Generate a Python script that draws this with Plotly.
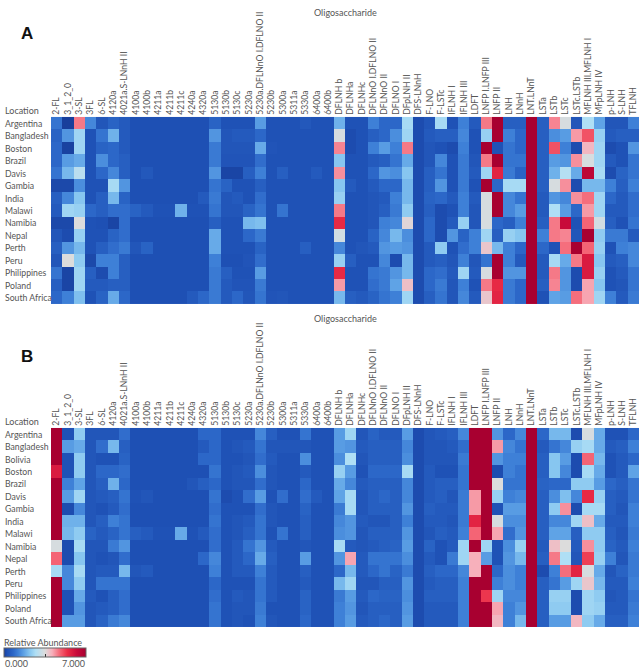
import plotly.graph_objects as go

W, H = 642, 668

oligos = ["2-FL", "3_1_2_0", "3-SL", "3FL", "6-SL", "4120a", "4021a.S-LNnH II", "4100a", "4100b",
          "4211a", "4211b", "4211c", "4240a", "4320a", "5130a", "5130b", "5130c", "5230a",
          "5230a.DFLNnO I.DFLNO II", "5230b", "5300a", "5311a", "5330a", "6400a", "6400b",
          "DFLNH b", "DFLNHa", "DFLNHc", "DFLNnO I.DFLNO II", "DFLNnO II", "DFLNO I", "DFpLNH II",
          "DFS-LNnH", "F-LNO", "F-LSTc", "IFLNH I", "IFLNH III", "LDFT", "LNFP I.LNFP III",
          "LNFP II", "LNH", "LNnH", "LNT.LNnT", "LSTa", "LSTb", "LSTc", "LSTc.LSTb",
          "MFLNH III.MFLNH I", "MFpLNH IV", "p-LNH", "S-LNH", "TFLNH"]

locations_a = ["Argentina", "Bangladesh", "Boston", "Brazil", "Davis", "Gambia", "India", "Malawi",
               "Namibia", "Nepal", "Perth", "Peru", "Philippines", "Poland", "South Africa"]
locations_b = ["Argentina", "Bangladesh", "Bolivia", "Boston", "Brazil", "Davis", "Gambia", "India",
               "Malawi", "Namibia", "Nepal", "Perth", "Peru", "Philippines", "Poland", "South Africa"]

abundance_a = [
    [1.0,0.0,4.6,1.3,0.4,0.7,0.5,0.25,0.25,0.25,0.25,0.25,0.25,0.25,0.7,0.3,0.3,0.3,1.6,0.3,0.3,0.3,0.45,0.3,0.3,1.9,
     0.3,0.3,1.2,0.8,0.8,2.6,0.2,0.4,2.6,0.3,1.2,0.5,4.6,7.0,0.6,0.6,7.0,0.6,4.5,3.4,0.4,2.7,1.7,0.4,0.4,1.2],
    [0.7,1.5,2.5,0.3,1.0,1.9,0.5,0.25,0.25,0.25,0.25,0.25,0.25,0.25,1.5,0.4,0.5,0.5,0.8,0.3,0.3,0.3,0.3,0.3,0.3,3.4,
     0.2,0.3,0.6,0.8,1.4,2.5,0.2,0.5,0.6,0.6,1.3,0.3,2.4,7.0,1.2,0.8,7.0,0.6,1.4,1.6,4.3,5.0,2.4,0.5,0.6,0.6],
    [0.8,0.05,2.5,0.3,0.7,0.8,0.5,0.25,0.25,0.25,0.25,0.25,0.25,0.25,1.1,0.4,0.4,0.4,1.8,0.35,0.3,0.3,0.3,0.3,0.3,4.5,
     0.2,0.3,1.2,1.6,1.2,4.6,0.2,0.4,0.3,0.2,1.2,0.3,7.0,0.3,1.0,0.8,7.0,0.6,5.0,1.2,0.2,4.0,2.5,0.2,0.3,1.5],
    [0.8,1.6,1.8,0.3,1.4,0.8,0.6,0.25,0.25,0.25,0.25,0.25,0.25,0.25,1.1,0.35,0.35,0.35,0.9,0.3,0.3,0.3,0.3,0.3,0.3,2.2,
     0.3,0.3,0.5,0.6,1.0,1.8,0.2,0.4,1.3,0.3,1.1,0.4,4.6,7.0,1.0,1.0,7.0,0.6,1.6,1.5,4.4,3.4,2.5,0.5,0.3,1.0],
    [1.0,2.0,2.9,0.3,0.8,1.3,0.6,0.25,0.45,0.25,0.25,0.25,0.25,0.25,1.5,0.1,0.1,0.6,1.2,0.3,0.6,0.3,0.3,0.5,0.3,4.4,
     0.3,0.3,0.8,1.5,1.4,2.2,0.2,0.6,1.0,0.3,1.1,0.5,2.5,5.6,1.1,0.7,7.0,0.6,1.9,2.8,1.8,6.5,2.6,0.2,0.7,1.0],
    [0.15,0.15,1.4,0.3,0.3,2.6,1.5,0.25,0.25,0.25,0.25,0.25,0.25,0.25,1.0,0.7,0.3,0.3,0.6,0.3,0.3,0.3,0.3,0.3,0.3,2.2,
     0.5,0.3,0.5,0.8,0.8,2.0,0.2,0.6,1.5,0.3,1.1,0.3,7.0,0.8,2.6,2.6,7.0,0.6,3.4,4.4,0.2,2.0,2.0,1.2,0.6,1.2],
    [0.6,1.3,2.2,0.3,0.6,2.0,0.7,0.25,0.25,0.25,0.25,0.25,0.25,0.5,1.1,0.4,0.5,0.3,0.9,0.3,0.3,0.3,0.3,0.3,0.3,2.4,
     0.3,0.3,0.4,0.5,1.2,2.0,0.2,0.7,0.8,0.5,1.2,0.5,3.4,7.0,1.3,1.0,7.0,0.5,1.5,1.3,4.4,4.7,2.5,0.8,0.5,0.9],
    [0.5,2.5,2.4,0.8,0.6,0.9,0.9,0.7,0.5,0.3,0.3,1.9,0.3,0.3,1.0,0.4,0.4,0.7,1.0,0.3,1.0,0.3,0.3,0.3,0.3,4.6,
     0.3,0.3,0.4,0.6,1.1,2.3,0.2,0.6,0.2,0.3,1.2,0.4,3.4,7.0,1.3,1.6,7.0,0.5,2.7,1.6,0.8,4.3,2.5,0.5,0.5,0.9],
    [0.15,0.15,3.5,0.3,0.25,0.1,0.9,0.25,0.25,0.25,0.25,0.25,0.25,0.25,0.6,0.3,0.3,2.0,2.1,0.3,0.3,0.3,0.3,0.3,0.3,5.5,
     0.3,0.3,0.4,1.2,1.3,3.6,0.2,0.8,0.2,0.5,2.4,0.4,3.4,0.8,0.6,1.2,7.0,0.6,4.6,6.2,0.3,4.8,3.3,0.6,0.3,1.0],
    [0.4,0.2,2.4,0.3,0.3,0.7,0.9,0.25,0.25,0.25,0.25,0.25,0.25,0.25,1.8,0.3,0.3,0.8,1.1,0.3,0.3,0.3,0.3,0.3,0.3,3.3,
     0.3,0.3,0.7,1.3,2.0,1.4,0.2,0.8,0.2,1.5,0.7,1.2,2.5,0.6,2.4,2.2,7.0,1.2,4.6,4.5,0.4,7.0,2.3,1.1,1.1,0.5],
    [0.6,1.5,2.0,0.3,0.6,0.9,1.1,0.4,0.7,0.25,0.25,0.25,0.25,0.25,1.8,0.3,0.3,0.3,0.7,0.3,0.3,0.3,0.6,0.3,0.3,1.3,
     0.3,0.4,0.5,1.5,1.6,1.5,0.2,0.5,2.3,0.3,0.9,1.2,3.8,2.0,1.2,0.8,7.0,0.8,0.3,4.7,7.0,4.8,2.4,0.3,1.2,1.3],
    [0.4,3.5,2.3,0.15,1.2,1.2,0.6,0.25,0.25,0.25,0.25,0.25,0.25,0.25,1.2,0.25,0.25,0.35,0.9,0.3,0.3,0.3,0.3,0.3,0.3,2.4,
     0.6,0.3,0.3,1.3,0.2,2.0,0.2,0.5,0.6,0.4,1.2,0.4,1.0,7.0,1.2,0.5,7.0,0.5,2.6,1.8,4.6,5.8,2.2,0.5,0.6,1.3],
    [1.0,0.1,2.5,0.6,0.2,1.2,0.6,0.25,0.25,0.25,0.25,0.25,0.25,0.25,1.1,0.6,0.3,0.3,1.6,0.3,0.3,0.3,0.3,0.3,0.3,5.5,
     0.3,0.3,1.0,1.1,1.5,2.0,0.2,0.8,0.9,0.5,2.5,0.5,3.4,7.0,1.5,1.5,7.0,0.5,4.6,1.5,0.2,5.8,2.4,0.3,0.5,1.0],
    [0.6,0.1,2.5,0.5,0.5,0.6,0.6,0.25,0.25,0.25,0.25,0.25,0.25,0.25,1.1,0.5,0.35,0.35,1.1,0.3,0.3,0.3,0.3,0.3,0.3,4.3,
     0.3,0.3,0.9,1.1,1.7,3.9,0.2,0.8,1.1,0.4,1.2,0.3,4.6,5.5,1.1,0.8,7.0,0.6,4.5,1.5,0.2,4.2,2.2,0.3,0.4,1.0],
    [0.8,1.2,2.1,0.3,0.7,1.8,0.8,0.25,0.25,0.25,0.25,0.25,0.5,0.8,1.1,0.5,0.8,0.4,1.0,0.35,0.4,0.3,0.3,0.3,0.3,2.0,
     0.6,0.5,0.7,1.0,1.2,2.5,0.2,0.6,1.0,0.4,1.3,0.5,3.8,5.6,1.1,0.8,7.0,0.3,1.7,1.6,4.7,4.2,2.5,1.2,0.5,1.1],
]

abundance_b = [
    [7.0,0.3,2.3,0.4,0.4,0.4,0.9,0.25,0.25,0.25,0.25,0.25,0.25,0.8,0.8,0.3,0.3,0.3,1.3,0.6,0.3,0.3,1.0,0.3,0.3,1.6,
     2.5,0.4,0.7,0.5,0.5,1.6,0.2,0.4,0.5,0.6,1.3,7.0,7.0,1.5,0.8,1.3,7.0,0.8,2.0,2.0,0.2,3.4,1.8,0.3,0.3,0.8],
    [7.0,1.6,1.8,0.4,0.9,2.0,0.6,0.25,0.25,0.25,0.25,0.25,0.25,0.5,0.8,0.3,0.4,0.5,1.0,0.4,0.4,0.4,0.4,0.3,0.3,1.6,
     1.5,0.5,0.6,0.6,0.6,1.3,0.2,0.4,0.4,0.5,0.9,7.0,7.0,4.3,1.3,1.0,7.0,0.5,1.0,1.3,2.4,2.6,1.8,0.5,0.6,1.2],
    [7.0,0.3,2.3,0.4,0.3,0.3,0.7,0.25,0.25,0.25,0.25,0.25,0.25,0.8,0.8,0.3,0.3,0.4,0.9,0.5,0.3,0.3,1.4,0.3,0.3,1.4,
     2.7,0.4,0.6,0.6,0.6,1.4,0.2,0.4,0.4,0.4,1.1,7.0,7.0,1.5,1.2,1.2,7.0,0.6,2.2,1.6,0.2,4.8,2.0,0.3,0.5,0.8],
    [5.8,0.3,2.3,0.4,0.8,0.8,0.9,0.25,0.25,0.25,0.25,0.25,0.25,0.25,1.0,0.3,0.4,0.5,1.4,0.4,0.3,0.3,0.5,0.3,0.3,2.4,
     1.6,0.3,0.8,0.8,0.8,2.6,0.2,0.5,0.3,0.3,1.0,7.0,7.0,0.2,1.2,1.0,7.0,0.6,2.2,1.3,0.2,2.6,1.8,0.3,0.5,1.7],
    [7.0,1.2,1.7,0.4,0.6,1.9,0.8,0.25,0.25,0.25,0.25,0.25,0.4,0.6,0.8,0.3,0.4,0.4,0.9,0.4,0.3,0.3,0.8,0.3,0.3,1.8,
     1.3,0.5,0.6,0.6,0.6,1.3,0.2,0.5,0.6,0.6,1.0,7.0,7.0,3.5,1.0,1.0,7.0,0.7,0.8,0.8,2.3,2.3,1.6,0.8,0.6,1.0],
    [7.0,1.6,2.5,0.4,0.5,0.6,1.0,0.3,0.4,0.25,0.25,0.25,0.25,0.25,1.0,0.2,0.3,0.9,1.6,0.3,0.9,0.3,0.9,0.5,0.3,1.7,
     2.6,0.4,0.6,0.8,0.6,1.3,0.2,0.5,0.6,0.4,1.1,4.3,7.0,2.4,1.2,1.3,7.0,0.6,1.4,2.1,1.3,5.5,2.4,0.6,0.5,1.0],
    [7.0,0.2,1.3,0.4,0.3,0.5,0.9,0.25,0.25,0.25,0.25,0.25,0.25,0.25,0.9,0.3,0.3,0.3,0.9,0.4,0.3,0.3,0.7,0.3,0.3,1.1,
     2.6,0.4,0.6,0.6,0.6,1.5,0.2,0.6,0.5,0.5,1.1,4.3,7.0,0.3,1.6,1.6,7.0,0.6,2.3,4.4,0.2,2.6,2.6,0.6,0.4,1.2],
    [7.0,1.9,1.9,0.4,0.6,1.2,1.0,0.25,0.25,0.25,0.25,0.25,0.25,0.25,1.0,0.3,0.4,0.5,1.0,0.4,0.3,0.3,0.6,0.3,0.3,1.3,
     1.5,0.5,0.4,0.4,0.6,1.2,0.2,0.5,0.5,0.4,1.1,5.6,7.0,3.4,1.4,1.4,7.0,0.6,1.3,1.3,2.5,3.9,1.8,0.5,0.5,1.2],
    [7.0,2.0,2.3,0.7,0.5,0.7,1.0,0.6,0.5,0.3,0.3,1.8,0.3,0.5,0.9,0.3,0.4,0.6,1.0,0.3,1.0,0.3,0.6,0.3,0.3,1.4,
     1.5,0.4,0.6,0.6,0.6,1.5,0.2,0.4,0.6,0.5,1.2,4.8,7.0,4.2,0.9,1.5,7.0,0.6,1.7,1.7,0.6,2.3,2.3,0.6,0.4,1.1],
    [3.4,0.2,2.6,0.4,0.4,1.1,1.5,0.25,0.25,0.25,0.25,0.25,0.25,0.25,0.9,0.3,0.5,1.0,1.5,0.5,0.3,0.3,0.4,0.3,0.3,2.6,
     0.5,0.4,0.5,0.6,0.7,1.6,0.2,0.7,0.3,0.5,2.5,7.0,2.5,0.3,1.4,2.4,7.0,0.5,3.9,3.5,0.5,4.4,2.3,0.7,0.5,1.2],
    [4.8,0.2,2.2,0.4,0.3,0.4,0.9,0.25,0.25,0.25,0.25,0.25,0.25,0.8,1.3,0.3,0.5,0.8,1.8,0.6,0.3,0.3,1.6,0.3,0.3,1.5,
     4.2,0.5,1.0,1.0,1.0,1.4,0.2,0.5,0.3,1.1,2.5,4.1,1.6,0.3,1.5,2.0,7.0,0.6,4.6,2.7,0.4,5.2,2.4,1.2,0.4,1.1],
    [2.6,1.3,2.6,0.4,0.5,0.5,2.0,0.4,0.5,0.25,0.25,0.25,0.25,0.25,1.2,0.3,0.5,0.5,1.2,0.5,0.3,0.3,0.6,0.3,0.3,0.8,
     2.0,0.5,0.8,1.0,0.7,1.1,0.2,0.6,0.8,0.8,1.3,4.1,7.0,0.8,1.4,1.2,7.0,0.2,1.2,4.7,5.6,3.4,1.8,0.4,0.7,1.1],
    [7.0,1.3,2.3,0.4,1.0,1.0,1.0,0.25,0.25,0.25,0.25,0.25,0.25,0.25,0.8,0.3,0.3,0.3,1.0,0.5,0.3,0.3,0.5,0.3,0.3,2.0,
     2.5,0.4,0.4,0.6,0.6,1.5,0.2,0.5,0.6,0.6,1.2,7.0,7.0,1.2,1.4,1.2,7.0,0.6,1.0,1.6,2.5,3.8,2.0,0.5,0.5,1.2],
    [7.0,0.3,1.8,0.5,0.3,0.6,0.9,0.25,0.25,0.25,0.25,0.25,0.25,0.25,0.9,0.3,0.5,0.4,1.0,0.5,0.3,0.3,0.7,0.3,0.3,1.1,
     1.6,0.5,0.8,0.7,0.7,1.4,0.2,0.6,0.6,0.6,1.2,7.0,5.3,2.5,1.3,1.3,7.0,0.6,2.4,2.4,0.2,2.5,2.3,0.4,0.5,1.0],
    [7.0,0.3,1.5,0.4,0.5,0.6,0.9,0.25,0.25,0.25,0.25,0.25,0.25,0.25,1.0,0.3,0.4,0.4,1.1,0.3,0.3,0.3,0.7,0.3,0.3,1.2,
     1.5,0.4,0.6,0.6,0.6,1.5,0.2,0.5,0.5,0.5,1.2,7.0,7.0,4.2,1.2,1.5,7.0,0.6,2.3,2.3,0.2,2.5,2.4,0.5,0.5,1.1],
    [7.0,1.6,1.6,0.4,0.7,1.1,1.3,0.25,0.25,0.25,0.25,0.25,0.25,0.25,1.0,0.3,0.4,0.3,1.2,0.4,0.3,0.3,0.8,0.3,0.3,1.2,
     1.6,0.5,0.6,0.8,0.6,1.6,0.2,0.5,0.5,0.5,1.2,7.0,7.0,4.0,1.2,2.0,7.0,0.6,1.6,1.6,4.0,2.3,1.8,0.6,0.6,1.2],
]

scale_ticks = ["0.000", "7.000"]
panel_letters = ["A", "B"]
x_title = "Oligosaccharide"
row_header = "Location"
legend_title = "Relative Abundance"

for r in abundance_a + abundance_b:
    assert len(r) == len(oligos), len(r)

colorscale = [
    [0.0, "rgb(24,62,155)"], [0.036, "rgb(30,80,180)"], [0.114, "rgb(44,103,200)"],
    [0.171, "rgb(62,128,215)"], [0.243, "rgb(95,163,230)"], [0.314, "rgb(135,198,240)"],
    [0.386, "rgb(175,223,245)"], [0.5, "rgb(220,220,220)"], [0.586, "rgb(247,176,187)"],
    [0.671, "rgb(245,110,125)"], [0.771, "rgb(235,45,70)"], [0.886, "rgb(200,10,58)"],
    [1.0, "rgb(168,0,48)"],
]

FONT = "Lato"
TXT = "#555555"

def px_x(p):
    return p / W

def px_y(p):
    return 1 - p / H

fig = go.Figure()
fig.add_trace(go.Heatmap(z=abundance_a, x=oligos, y=locations_a, coloraxis="coloraxis",
                         xaxis="x", yaxis="y", xgap=0, ygap=0))
fig.add_trace(go.Heatmap(z=abundance_b, x=oligos, y=locations_b, coloraxis="coloraxis",
                         xaxis="x2", yaxis="y2", xgap=0, ygap=0))

xdom = [px_x(51), px_x(639)]
xa = dict(type="category", side="top", tickangle=-90, showgrid=False, zeroline=False,
          ticks="", tickfont=dict(family=FONT, size=8.6, color=TXT), showline=False,
          automargin=False)
ya = dict(type="category", autorange="reversed", showticklabels=False, showgrid=False,
          zeroline=False, ticks="", automargin=False)

fig.update_layout(
    width=W, height=H, margin=dict(l=0, r=0, t=0, b=0, autoexpand=False),
    paper_bgcolor="white", plot_bgcolor="white",
    font=dict(family=FONT, size=9, color=TXT),
    xaxis=dict(domain=xdom, anchor="y", **xa),
    yaxis=dict(domain=[px_y(305.3), px_y(115.7)], anchor="x", **ya),
    xaxis2=dict(domain=xdom, anchor="y2", **xa),
    yaxis2=dict(domain=[px_y(628.3), px_y(426.7)], anchor="x2", **ya),
    coloraxis=dict(
        colorscale=colorscale, cmin=0, cmax=7,
        colorbar=dict(orientation="h", x=px_x(4), xanchor="left", y=px_y(648), yanchor="top",
                      len=82, lenmode="pixels", thickness=9, thicknessmode="pixels",
                      outlinewidth=1, outlinecolor="#666", xpad=0, ypad=0,
                      tickvals=[3.5], ticks="inside", ticklen=3, tickcolor="#333",
                      showticklabels=False),
    ),
)

def note(text, x, y, size=9, xanchor="left", color=TXT, family=FONT, yref="paper"):
    return dict(text=text, x=x, y=y, xref="paper", yref=yref, xanchor=xanchor,
                yanchor="middle", showarrow=False, font=dict(family=family, size=size, color=color))

ann = []
for ytop in (12, 318):
    ann.append(note(x_title, px_x(345), px_y(ytop), xanchor="center"))
for letter, yy in zip(panel_letters, (33, 356)):
    ann.append(note("<b>%s</b>" % letter, px_x(27), px_y(yy), size=17, xanchor="center",
                    color="#111", family="Liberation Sans"))
for yy in (110, 421):
    ann.append(note(row_header, px_x(3), px_y(yy)))
for locs, yref in ((locations_a, "y"), (locations_b, "y2")):
    for loc in locs:
        ann.append(note(loc, px_x(3), loc, size=8.7, yref=yref))
ann.append(note(legend_title, px_x(2), px_y(642)))
ann.append(note(scale_ticks[0], px_x(3), px_y(663)))
ann.append(note(scale_ticks[1], px_x(87), px_y(663), xanchor="right"))
fig.update_layout(annotations=ann)

fig.write_html("out.html", config={"displayModeBar": False},
               post_script="document.body.style.margin='0px';document.body.style.padding='0px';")
